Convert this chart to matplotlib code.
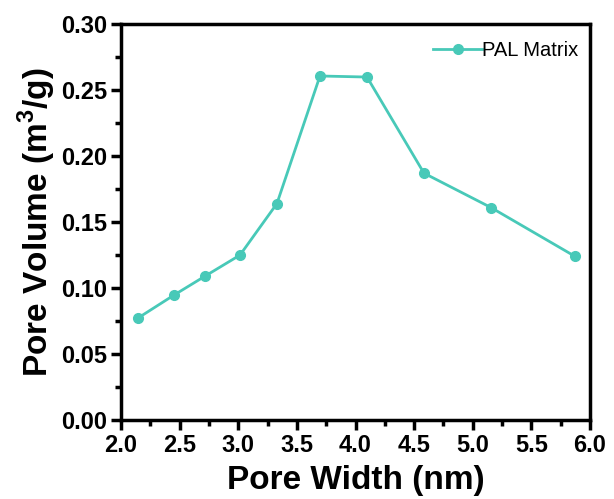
import matplotlib
matplotlib.use("Agg")
import matplotlib.pyplot as plt
from matplotlib.ticker import MultipleLocator, FormatStrFormatter

plt.rcParams['font.family'] = ['Liberation Sans', 'DejaVu Sans']
plt.rcParams['mathtext.fontset'] = 'custom'
plt.rcParams['mathtext.bf'] = 'Liberation Sans:bold'
plt.rcParams['mathtext.rm'] = 'Liberation Sans'

pore_width = [2.145, 2.452, 2.716, 3.015, 3.33, 3.697, 4.098, 4.584, 5.155, 5.872]
pore_volume = [0.0773, 0.0947, 0.109, 0.125, 0.164, 0.2606, 0.2598, 0.187, 0.161, 0.124]
series_label = "PAL Matrix"
color = "#48C9B8"

fig = plt.figure(figsize=(6.14, 4.99), dpi=100)
ax = fig.add_axes([0.197, 0.158, 0.764, 0.794])
ax.plot(pore_width, pore_volume, '-o', color=color, lw=2, ms=7, label=series_label)

ax.set_xlim(2.0, 6.0)
ax.set_ylim(0.0, 0.30)
ax.xaxis.set_major_locator(MultipleLocator(0.5))
ax.xaxis.set_minor_locator(MultipleLocator(0.25))
ax.yaxis.set_major_locator(MultipleLocator(0.05))
ax.yaxis.set_minor_locator(MultipleLocator(0.025))
ax.xaxis.set_major_formatter(FormatStrFormatter('%.1f'))
ax.yaxis.set_major_formatter(FormatStrFormatter('%.2f'))
ax.tick_params(which='major', direction='out', length=7.5, width=2.5, labelsize=17, pad=2.5)
ax.tick_params(which='minor', direction='out', length=4, width=2.5)
for lab in ax.get_xticklabels() + ax.get_yticklabels():
    lab.set_fontweight('bold')
for s in ax.spines.values():
    s.set_linewidth(2.5)

ax.set_xlabel("Pore Width (nm)", fontsize=24, fontweight='bold', labelpad=6)
ax.set_ylabel("Pore Volume (m$^\\mathbf{3}$/g)", fontsize=24, fontweight='bold', labelpad=2)

leg = ax.legend(loc='upper right', bbox_to_anchor=(1.0, 0.987), frameon=False,
                fontsize=14.5, handlelength=2.4, handletextpad=0.0, borderaxespad=0.2)

fig.savefig("out.png", dpi=100)
